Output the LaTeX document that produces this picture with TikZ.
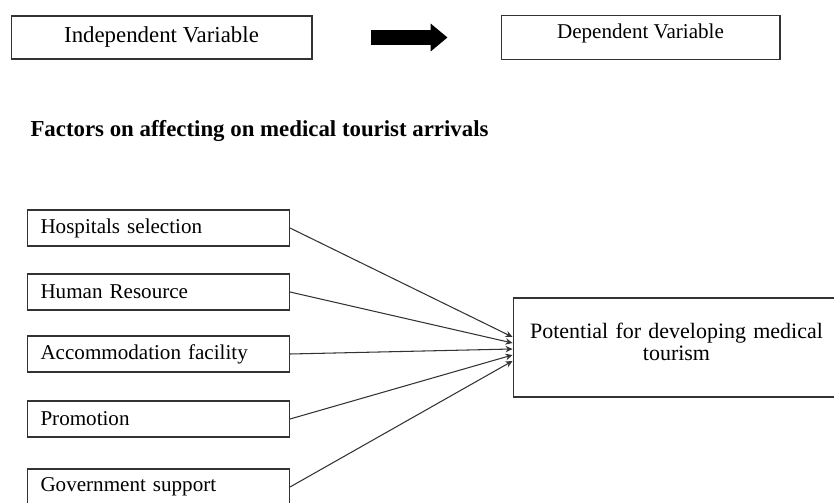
\documentclass[tikz,border=0pt]{standalone}
\usepackage{fontspec}
\setmainfont{Liberation Serif}
\usetikzlibrary{arrows.meta}

\begin{document}
\begin{tikzpicture}[x=0.02cm, y=-0.02cm, line width=0.6pt,
    box/.style={draw=black!80, inner sep=0pt},
    factor/.style={box, anchor=west, minimum width=5.24cm, minimum height=0.72cm,
        text width=4.72cm, align=left, font=\fontsize{12}{14}\selectfont},
    bigarrow/.style={line width=0.3cm, -{Triangle[length=0.34cm,width=0.54cm]},
        shorten <=1.18cm, shorten >=1.06cm},
    link/.style={black!80, -{Stealth[length=1.4mm,width=1.3mm]}}]
    \useasboundingbox (0,0) rectangle (834,503);

    % Legend
    \node[box, minimum width=6.02cm, minimum height=0.86cm, font=\fontsize{13}{15}\selectfont,
        text height=0.3cm, text depth=0.1cm] (indep) at (161.5,37.5) {Independent Variable};
    \node[box, minimum width=5.58cm, minimum height=0.88cm, font=\fontsize{12}{14}\selectfont,
        text height=0.3cm, text depth=0.26cm] (dep) at (640.5,37.5) {Dependent Variable};
    \draw[bigarrow] (indep.east) -- (dep.west);

    % Heading
    \node[anchor=west, inner sep=0pt, font=\fontsize{13}{15}\selectfont\bfseries] (head) at (30,131)
        {Factors on affecting on medical tourist arrivals};

    % Factors
    \foreach \name/\y/\txt in {hosp/228/Hospitals selection, human/292/Human Resource,
        accom/354/Accommodation facility, promo/419/Promotion, gov/487/Government support} {
        \node[factor] (\name) at (27,\y) {\txt};
    }

    % Outcome
    \node[box, minimum width=6.54cm, minimum height=1.98cm, text width=6.1cm, align=center,
        text depth=0.68cm, font=\fontsize{12.5}{12.5}\selectfont] (pot) at (676.5,347.5)
        {Potential for developing medical\\tourism};

    % Links
    \foreach \name/\dy in {hosp/0.21, human/0.09, accom/-0.03, promo/-0.15, gov/-0.27} {
        \draw[link] (\name.east) -- ([yshift=\dy cm]pot.west);
    }
\end{tikzpicture}
\end{document}
